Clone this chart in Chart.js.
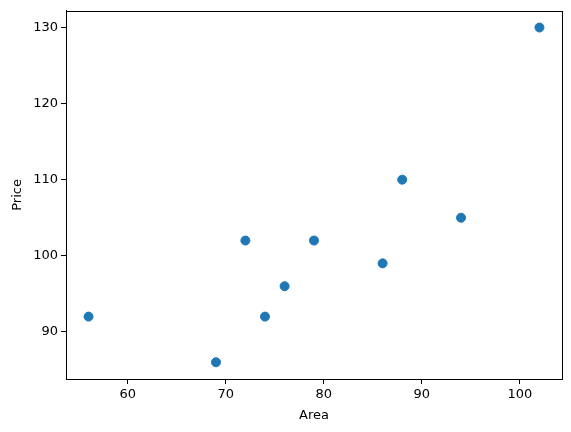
<!DOCTYPE html>
<html>
<head>
<meta charset="utf-8">
<script src="https://cdn.jsdelivr.net/npm/chart.js@4/dist/chart.umd.min.js"></script>
<style>
  html, body { margin: 0; padding: 0; background: #fff; }
  #wrap { width: 571px; height: 432px; }
</style>
</head>
<body>
<div id="wrap"><canvas id="c" width="571" height="432"></canvas></div>
<script>
// data
const area = [56, 69, 72, 74, 76, 79, 86, 88, 94, 102];
const price = [92, 86, 102, 92, 96, 102, 99, 110, 105, 130];
const xTickVals = [60, 70, 80, 90, 100];
const yTickVals = [90, 100, 110, 120, 130];

const font = { family: 'DejaVu Sans', size: 13 };

// box around the plot area, like matplotlib spines
const frame = {
    id: 'frame',
    afterDraw(chart) {
        const a = chart.chartArea, ctx = chart.ctx;
        ctx.save();
        ctx.strokeStyle = '#000';
        ctx.lineWidth = 1;
        ctx.strokeRect(Math.round(a.left) + 0.5, Math.round(a.top) + 0.5,
            Math.round(a.right - a.left), Math.round(a.bottom - a.top));
        ctx.restore();
    }
};

new Chart(document.getElementById('c'), {
    type: 'scatter',
    data: {
        datasets: [{
            data: area.map((x, i) => ({ x: x, y: price[i] })),
            backgroundColor: '#1f77b4',
            borderColor: '#1f77b4',
            pointRadius: 4.5,
            pointHoverRadius: 4.5
        }]
    },
    options: {
        responsive: false,
        animation: false,
        layout: { padding: { top: 8, right: 9, left: 6, bottom: 5 } },
        plugins: { legend: { display: false }, tooltip: { enabled: false } },
        scales: {
            x: {
                type: 'linear',
                min: 53.7,
                max: 104.3,
                afterBuildTicks: s => { s.ticks = xTickVals.map(v => ({ value: v })); },
                afterFit: s => { s.height = 48; },
                grid: { drawOnChartArea: false, tickLength: 5, color: '#000' },
                border: { color: '#000' },
                ticks: { font: font, color: '#000', padding: 3, maxRotation: 0 },
                title: { display: true, text: 'Area', font: font, color: '#000', padding: { top: 4 } }
            },
            y: {
                type: 'linear',
                min: 83.8,
                max: 132.2,
                afterBuildTicks: s => { s.ticks = yTickVals.map(v => ({ value: v })); },
                afterFit: s => { s.width = 60; },
                grid: { drawOnChartArea: false, tickLength: 5, color: '#000' },
                border: { color: '#000' },
                ticks: { font: font, color: '#000', padding: 3 },
                title: { display: true, text: 'Price', font: font, color: '#000', padding: { bottom: 4 } }
            }
        }
    },
    plugins: [frame]
});
</script>
</body>
</html>
